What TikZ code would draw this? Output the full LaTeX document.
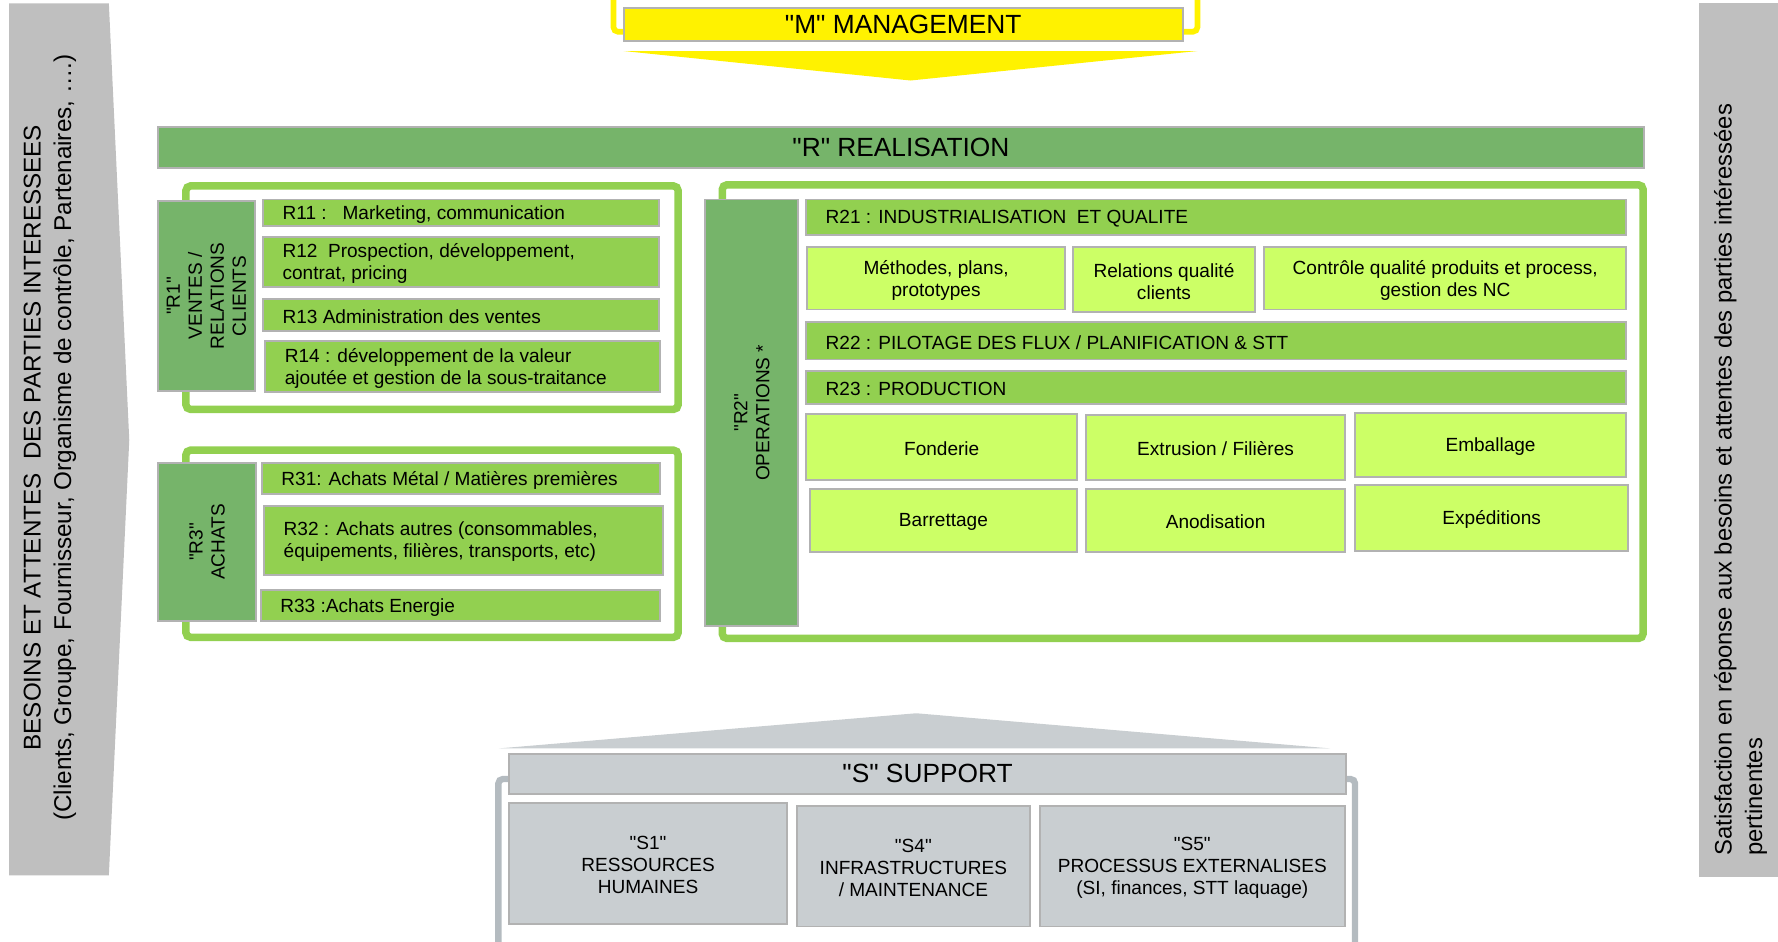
\documentclass[tikz,border=0pt]{standalone}
\usepackage{fontspec}
\setmainfont{Liberation Sans}[Ligatures=TeXOff]
\usetikzlibrary{fit}
\definecolor{darkgreen}{RGB}{118,180,106}
\definecolor{midgreen}{RGB}{146,208,80}
\definecolor{palegreen}{RGB}{204,255,102}
\definecolor{sidegray}{RGB}{191,191,191}
\definecolor{supgray}{RGB}{201,206,209}
\definecolor{supline}{RGB}{180,187,192}
\newcommand\bodyfont{\fontsize{8.4pt}{9.7pt}\selectfont}
\newcommand\titlefont{\fontsize{11.6pt}{13pt}\selectfont}
\newcommand\sidefont{\fontsize{10.5pt}{13.5pt}\selectfont}
\tikzset
 {every node/.style = {font=\bodyfont, inner sep=0pt},      % small Arial-like text everywhere
  block/.style = {draw=black!30, line width=0.8pt},          % thin grey border of every box
  head/.style = {block, fill=darkgreen},                     % "R" bar and the R1/R2/R3 labels
  sub/.style = {block, fill=midgreen},                       % R11 ... R33 bars
  leaf/.style = {block, fill=palegreen},                     % activities of R2
  supbox/.style = {block, fill=supgray},                     % "S" boxes
  gframe/.style = {draw=midgreen, line width=3.3pt, rounded corners=2pt}, % open frames round groups
  side/.style = {font=\sidefont, rotate=90},                 % texts on the grey side arrows
  inbox/.style = {yshift=-0.7pt}                             % text sits a hair low in its box
 }

\begin{document}
\begin{tikzpicture}[x=0.5pt, y=-0.5pt]
    \useasboundingbox (0,0) rectangle (1568,830);
    % inputs and outputs
    \fill[sidegray] (8,3) -- (96,3) -- (114,388) -- (96,772) -- (8,772) -- cycle;
    \node[side, align=center, font=\fontsize{10.7pt}{13.5pt}\selectfont] (needs) at (44,386)
        {BESOINS ET ATTENTES\ \ DES PARTIES INTERESSEES\\(Clients, Groupe, Fournisseur, Organisme de contrôle, Partenaires, ….)};
    \fill[sidegray] (1498,3) rectangle (1568,773);
    \node[side, align=left, anchor=west] (satisf) at (1535,755)
        {Satisfaction en réponse aux besoins et attentes des parties intéressées\\pertinentes};
    % management
    \draw[yellow, line width=2.5pt, rounded corners=2pt] (541,-20) rectangle (1056,28);
    \node[block, fill=yellow, fit={(550,7) (1043,36)}] (mbox) {};
    \node[font=\titlefont] at (mbox) {"M" MANAGEMENT};
    \fill[yellow] (550,45) -- (1056,45) -- (803,71) -- cycle;
    % realisation
    \node[head, fit={(139,112) (1450,148)}] (rbar) {};
    \node[font=\titlefont] at (rbar) {"R" REALISATION};
    \foreach \xa/\ya/\xb/\yb in {164/164/598/361, 164/397/598/562, 637/163/1449/563}
        \draw[gframe] (\xa,\ya) rectangle (\xb,\yb);
    \foreach \nm/\xa/\ya/\xb/\yb/\txt in
       {r1/139/177/225/345/{"R1"\\VENTES /\\RELATIONS\\CLIENTS},
        r3/139/408/226/548/{"R3"\\ACHATS},
        r2/622/176/704/552/{"R2"\\OPERATIONS *}}
    {
        \node[head, fit={(\xa,\ya) (\xb,\yb)}] (\nm) {};
        \node[rotate=90, align=center] at (\nm) {\txt};
    }
    \foreach \nm/\xa/\ya/\xb/\yb/\txt in
       {r11/232/176/581/199/{R11 :\ \ \ Marketing, communication},
        r12/232/209/581/253/{R12\ \ Prospection, développement,\\contrat, pricing},
        r13/232/264/581/292/{R13 Administration des ventes},
        r14/234/301/582/346/{R14 : développement de la valeur\\ajoutée et gestion de la sous-traitance},
        r31/231/408/582/436/{R31: Achats Métal / Matières premières},
        r32/233/446/585/507/{R32 : Achats autres (consommables,\\équipements, filières, transports, etc)},
        r33/230/520/582/548/{R33 :Achats Energie},
        r21/711/176/1434/207/{R21 : INDUSTRIALISATION\ \ ET QUALITE},
        r22/711/284/1434/317/{R22 : PILOTAGE DES FLUX / PLANIFICATION \& STT},
        r23/711/327/1434/356/{R23 : PRODUCTION}}
    {
        \node[sub, fit={(\xa,\ya) (\xb,\yb)}] (\nm) {};
        \node[inbox, anchor=west, align=left, xshift=8.8pt] at (\nm.west) {\txt};
    }
    \foreach \nm/\xa/\ya/\xb/\yb/\txt in
       {methodes/712/218/939/273/{Méthodes, plans,\\prototypes},
        relqual/946/218/1107/275/{Relations qualité\\clients},
        controle/1115/218/1434/273/{Contrôle qualité produits et process,\\gestion des NC},
        fonderie/711/365/950/423/{Fonderie},
        extrusion/958/366/1186/423/{Extrusion / Filières},
        emballage/1195/364/1434/421/{Emballage},
        barrettage/714/431/950/487/{Barrettage},
        anodisation/958/431/1186/487/{Anodisation},
        expeditions/1195/428/1436/486/{Expéditions}}
    {
        \node[leaf, fit={(\xa,\ya) (\xb,\yb)}] (\nm) {};
        \node[inbox, align=center] at (\nm) {\txt};
    }
    % support
    \fill[supgray] (440,660) -- (808,629) -- (1173,660) -- cycle;
    \draw[supline, line width=2.8pt, rounded corners=2pt] (439.5,850) -- (439.5,687) -- (1195,687) -- (1195,850);
    \node[supbox, fit={(449,665) (1187,700)}] (sbar) {};
    \node[font=\titlefont] at (sbar) {"S" SUPPORT};
    \foreach \nm/\xa/\ya/\xb/\yb/\txt in
       {s1/449/708/694/815/{"S1"\\RESSOURCES\\HUMAINES},
        s4/703/711/908/817/{"S4"\\INFRASTRUCTURES\\/ MAINTENANCE},
        s5/917/711/1186/817/{"S5"\\PROCESSUS EXTERNALISES\\(SI, finances, STT laquage)}}
    {
        \node[supbox, fit={(\xa,\ya) (\xb,\yb)}] (\nm) {};
        \node[inbox, align=center] at (\nm) {\txt};
    }
\end{tikzpicture}
\end{document}
